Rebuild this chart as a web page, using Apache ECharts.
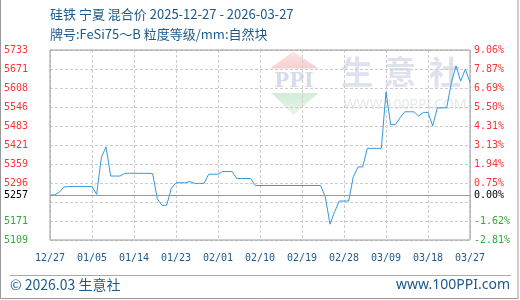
<!DOCTYPE html>
<html>
<head>
<meta charset="utf-8">
<script src="https://cdn.jsdelivr.net/npm/echarts@6/dist/echarts.min.js"></script>
<style>html,body{margin:0;padding:0;background:#fff;}#c{width:520px;height:300px;}</style>
</head>
<body>
<div id="c"></div>
<script>
// ---- data ----
const startDate = [2025, 12, 27];
const dayCount = 91;
const categories = [];
(function () {
  const d = new Date(startDate[0], startDate[1] - 1, startDate[2]);
  for (let i = 0; i < dayCount; i++) {
    const mm = String(d.getMonth() + 1).padStart(2, '0');
    const dd = String(d.getDate()).padStart(2, '0');
    categories.push(mm + '/' + dd);
    d.setDate(d.getDate() + 1);
  }
})();
const prices = [
  5257, 5257, 5266, 5283, 5285, 5285, 5285, 5285, 5285, 5284,
  5259, 5380, 5415, 5319, 5319, 5319, 5328, 5328, 5328, 5328,
  5328, 5328, 5327, 5244, 5223, 5223, 5279, 5297, 5297, 5297,
  5301, 5295, 5295, 5295, 5325, 5325, 5325, 5334, 5334, 5334,
  5311, 5311, 5311, 5311, 5288, 5288, 5288, 5288, 5288, 5288,
  5288, 5288, 5288, 5288, 5288, 5288, 5288, 5288, 5288, 5250,
  5161, 5202, 5237, 5237, 5237, 5317, 5349, 5349, 5410, 5410,
  5410, 5410, 5595, 5488, 5488, 5510, 5530, 5530, 5530, 5516,
  5528, 5528, 5484, 5543, 5543, 5543, 5625, 5681, 5631, 5670,
  5627
];
const basePrice = 5257;
const yMin = 5109;
const yMax = 5733;
const yStep = 62.4;
const leftTickLabels = ['5109', '5171', '', '5296', '5359', '5421', '5483', '5546', '5608', '5671', '5733'];
const rightTickLabels = ['-2.81%', '-1.62%', '', '0.75%', '1.94%', '3.13%', '4.31%', '5.50%', '6.69%', '7.87%', '9.06%'];
const baseLeftLabel = '5257';
const baseRightLabel = '0.00%';
const titleText = '硅铁 宁夏 混合价 2025-12-27 - 2026-03-27';
const subTitleText = '牌号:FeSi75～B 粒度等级/mm:自然块';
const footerLeft = '© 2026.03 生意社';
const footerRight = 'www.100PPI.com';

// ---- styles ----
const RED = '#ff3333', GREEN = '#33aa33', BLUE_TXT = '#1c5a8c';
const MONO = 'DejaVu Sans Mono';
const CJK = 'Noto Sans CJK SC';
const labelColor = (v) => (Number(v) > basePrice ? RED : GREEN);

const chart = echarts.init(document.getElementById('c'), null, { renderer: 'canvas' });
chart.setOption({
  animation: false,
  backgroundColor: '#fff',
  grid: { left: 50, top: 50, width: 420, height: 190, show: true, borderColor: '#999', borderWidth: 1, backgroundColor: 'transparent', z: 1 },
  xAxis: {
    type: 'category', data: categories, boundaryGap: false,
    axisLine: { show: false }, axisTick: { show: false },
    axisLabel: { interval: 8, margin: 13, color: BLUE_TXT, fontFamily: MONO, fontSize: 10 },
    splitLine: { show: true, interval: 8, lineStyle: { color: '#ccc', type: [3, 2], width: 1 } }
  },
  yAxis: [
    {
      type: 'value', position: 'left', min: yMin, max: yMax, interval: yStep,
      axisLine: { show: false }, axisTick: { show: false },
      axisLabel: { margin: 22, fontFamily: MONO, fontSize: 10, color: labelColor,
        formatter: (v, i) => leftTickLabels[i] || '' },
      splitLine: { show: true, lineStyle: { color: '#ccc', type: [3, 2], width: 1 } }
    },
    {
      type: 'value', position: 'right', min: yMin, max: yMax, interval: yStep,
      axisLine: { show: false }, axisTick: { show: false },
      axisLabel: { margin: 4, fontFamily: MONO, fontSize: 10, color: labelColor,
        formatter: (v, i) => rightTickLabels[i] || '' },
      splitLine: { show: false }
    }
  ],
  graphic: [
    // frame
    { type: 'rect', z: 100, silent: true, shape: { x: 0.5, y: -2, width: 517.5, height: 300.5 }, style: { fill: 'none', stroke: '#999', lineWidth: 1 } },
    // titles
    { type: 'text', left: 50, top: 8, silent: true, style: { text: titleText, font: '13px "' + CJK + '"', fill: BLUE_TXT } },
    { type: 'text', left: 50, top: 28, silent: true, style: { text: subTitleText, font: '13px "' + CJK + '"', fill: BLUE_TXT } },
    // footer
    { type: 'line', silent: true, shape: { x1: 10, y1: 275.5, x2: 511, y2: 275.5 }, style: { stroke: '#aaa', lineWidth: 1 } },
    { type: 'text', left: 10, top: 278, silent: true, style: { text: footerLeft, font: '14px "' + CJK + '"', fill: BLUE_TXT } },
    { type: 'text', right: 10, top: 278, silent: true, style: { text: footerRight, font: '14px "Noto Sans"', fill: BLUE_TXT } },
    // watermark logo
    { type: 'polygon', z: -1, silent: true, shape: { points: [[270, 68.5], [293.5, 51.5], [318.5, 68.5]] },
      style: { fill: new echarts.graphic.LinearGradient(0, 0, 0, 1, [{ offset: 0, color: '#fbe6e6' }, { offset: 1, color: '#f6cfcf' }]) } },
    { type: 'polygon', z: -1, silent: true, shape: { points: [[271.5, 93], [318.5, 93], [293.5, 115]] },
      style: { fill: new echarts.graphic.LinearGradient(0, 0, 0, 1, [{ offset: 0, color: '#d3ecd9' }, { offset: 1, color: '#e8f5eb' }]) } },
    { type: 'text', z: -1, silent: true, x: 294, y: 82, style: { text: 'PPI', font: 'bold 20px "DejaVu Serif"', fill: '#d5dceb', align: 'center', verticalAlign: 'middle' } },
    { type: 'text', z: -1, silent: true, x: 357, y: 72, style: { text: '生', font: 'bold 32px "' + CJK + '"', fill: '#dde2ec', align: 'center', verticalAlign: 'middle' } },
    { type: 'text', z: -1, silent: true, x: 400, y: 72, style: { text: '意', font: 'bold 32px "' + CJK + '"', fill: '#dde2ec', align: 'center', verticalAlign: 'middle' } },
    { type: 'text', z: -1, silent: true, x: 445, y: 72, style: { text: '社', font: 'bold 32px "' + CJK + '"', fill: '#dde2ec', align: 'center', verticalAlign: 'middle' } },
    { type: 'text', z: -1, silent: true, x: 405, y: 105, style: { text: 'WWW.100PPI.COM', font: '14px "Noto Sans"', fill: '#e8e8e8', align: 'center', verticalAlign: 'middle' } }
  ],
  series: [
    {
      type: 'line', data: [], silent: true,
      markLine: {
        silent: true, symbol: 'none', animation: false,
        lineStyle: { color: '#999', type: 'solid', width: 1 },
        data: [
          { yAxis: basePrice, label: { show: true, position: 'start', distance: 22, formatter: baseLeftLabel, color: '#000', fontFamily: MONO, fontSize: 10 } },
          { yAxis: basePrice, label: { show: true, position: 'end', distance: 4, formatter: baseRightLabel, color: '#000', fontFamily: MONO, fontSize: 10 } }
        ]
      }
    },
    {
      type: 'line', data: prices, symbol: 'none', smooth: false,
      lineStyle: { color: '#3399dd', width: 1 }, itemStyle: { color: '#3399dd' }
    }
  ]
});
</script>
</body>
</html>
